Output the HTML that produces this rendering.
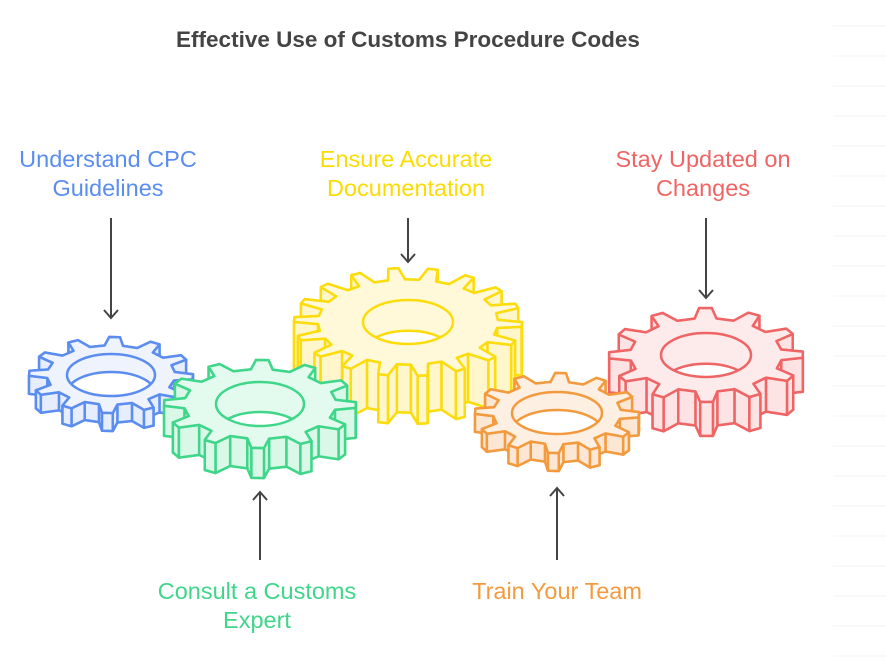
<!DOCTYPE html>
<html><head><meta charset="utf-8"><style>
html,body{margin:0;padding:0;background:#fff;}
body{width:886px;height:666px;overflow:hidden;position:relative;font-family:"Liberation Sans",sans-serif;}
.t{position:absolute;font-size:23.5px;line-height:29px;text-align:center;white-space:nowrap;transform:translateX(-50%);}
</style></head><body>
<div style="position:absolute;left:408px;top:27px;transform:translateX(-50%);font-weight:bold;font-size:22.5px;color:#444;white-space:nowrap">Effective Use of Customs Procedure Codes</div>
<div class="t" style="left:108px;top:145px;color:#5b8def">Understand CPC<br>Guidelines</div>
<div class="t" style="left:406px;top:145px;color:#fadc00">Ensure Accurate<br>Documentation</div>
<div class="t" style="left:703px;top:145px;color:#ef6464">Stay Updated on<br>Changes</div>
<div class="t" style="left:257px;top:577px;color:#3fd68a">Consult a Customs<br>Expert</div>
<div class="t" style="left:557px;top:577px;color:#f49a3e">Train Your Team</div>
<svg id="s" width="886" height="666" style="position:absolute;left:0;top:0"></svg>
<script>
const s=document.getElementById('s');let h='';
for(let y=26;y<666;y+=30)h+=`<line x1="833" y1="${y}" x2="886" y2="${y}" stroke="#f3f3f3"/>`;
function gear(cx,cy,R,r,ry,n,t,hrx,hry,st,fl,fs,off){
 const k=ry/R;
 const P=[];for(let i=0;i<n;i++){const a0=(i/n)*2*Math.PI+off,w=2*Math.PI/n;
  [[a0,r],[a0+w*0.15,R],[a0+w*0.4,R],[a0+w*0.55,r]].forEach(([a,rr])=>P.push([cx+rr*Math.cos(a),cy+rr*k*Math.sin(a)]));}
 const sides=[];for(let i=0;i<P.length;i++){const a=P[i],b=P[(i+1)%P.length];sides.push([a,b]);}
 sides.sort((u,v)=>(u[0][1]+u[1][1])-(v[0][1]+v[1][1]));
 let o='';
 o+=`<polygon points="${P.map(p=>p[0].toFixed(1)+','+(p[1]+t).toFixed(1)).join(' ')}" fill="${fs}" stroke="${st}" stroke-width="2.5" stroke-linejoin="round"/>`;
 sides.forEach(([a,b])=>{o+=`<polygon points="${a[0]},${a[1]} ${b[0]},${b[1]} ${b[0]},${b[1]+t} ${a[0]},${a[1]+t}" fill="${fs}" stroke="${st}" stroke-width="2.5" stroke-linejoin="round"/>`;});
 o+=`<polygon points="${P.map(p=>p[0].toFixed(1)+','+p[1].toFixed(1)).join(' ')}" fill="${fl}" stroke="${st}" stroke-width="2.5" stroke-linejoin="round"/>`;
 const id='c'+cx;
 o+=`<clipPath id="${id}"><ellipse cx="${cx}" cy="${cy}" rx="${hrx}" ry="${hry}"/></clipPath>`;
 o+=`<ellipse cx="${cx}" cy="${cy}" rx="${hrx}" ry="${hry}" fill="${fl}"/>`;
 o+=`<ellipse cx="${cx}" cy="${cy+Math.min(t,hry*1.4)}" rx="${hrx}" ry="${hry}" fill="#fff" stroke="${st}" stroke-width="2.5" clip-path="url(#${id})"/>`;
 o+=`<ellipse cx="${cx}" cy="${cy}" rx="${hrx}" ry="${hry}" fill="none" stroke="${st}" stroke-width="2.5"/>`;
 return o;
}
h+=gear(408,322,114,90,54,18,48,45,22,'#fcdc0c','#fff9d9','#fff6cc',-0.05);
h+=gear(706,355,97,76,47,12,34,45,22,'#ef6464','#fdeaea','#fde3e3',-0.15);
h+=gear(111,375,82,64,38,12,18,44,21,'#5b8def','#eef3fe','#e6eefd',-0.1);
h+=gear(260,404,96,76,44,12,30,44,22,'#3fd68a','#e3fbee','#d9f8e8',-0.12);
h+=gear(557,413,82,64,40,12,18,45,21,'#f49a3e','#fdefe2','#fce7d4',-0.1);
function arr(x,y1,y2){const d=y2>y1?-1:1;h+=`<line x1="${x}" y1="${y1}" x2="${x}" y2="${y2}" stroke="#444" stroke-width="2"/><polyline points="${x-7},${y2+8*d} ${x},${y2} ${x+7},${y2+8*d}" fill="none" stroke="#444" stroke-width="2"/>`;}
arr(111,218,318);arr(408,218,262);arr(706,218,298);arr(260,560,492);arr(557,560,488);
s.innerHTML=h;
</script>
</body></html>
